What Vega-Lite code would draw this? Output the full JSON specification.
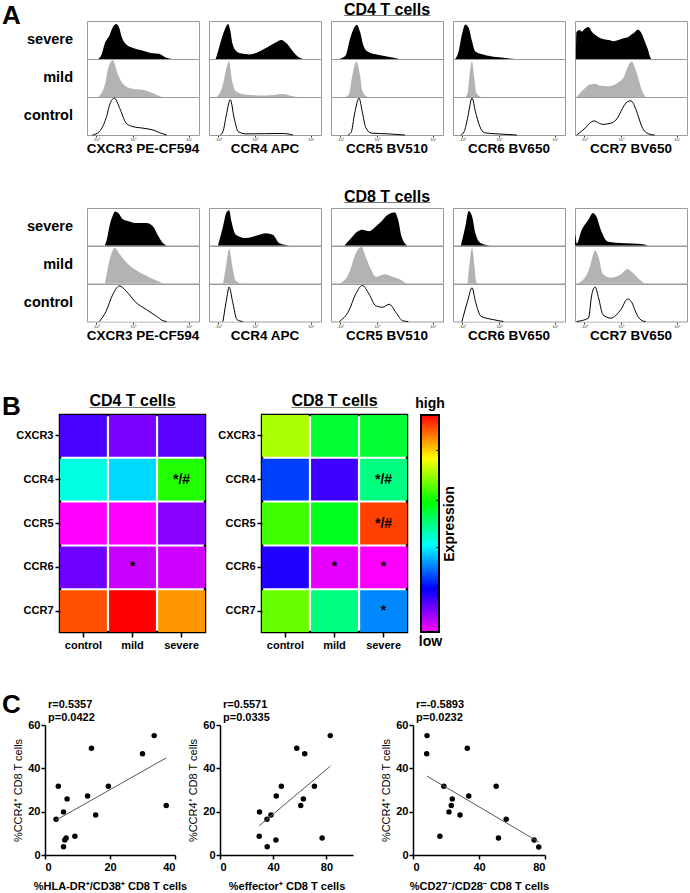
{
"$schema": "https://vega.github.io/schema/vega-lite/v6.json",
"background": "white",
"padding": {"left": 2, "top": 1, "right": 0, "bottom": 0},
"config": {
  "font": "Liberation Sans",
  "view": {"stroke": null},
  "axis": {"labelColor": "#000", "titleColor": "#000", "tickColor": "#000", "domainColor": "#000", "grid": false, "labelFont": "Liberation Sans", "titleFont": "Liberation Sans"},
  "header": {"labelColor": "#000", "labelFont": "Liberation Sans"},
  "title": {"color": "#000", "subtitleColor": "#000", "font": "Liberation Sans", "subtitleFont": "Liberation Sans"}
},
"datasets": {
  "hist": [
    {"c":"CD4","m":"CXCR3 PE-CF594","g":"severe","x":0.10,"y":0},
    {"c":"CD4","m":"CXCR3 PE-CF594","g":"severe","x":0.13,"y":0.12},
    {"c":"CD4","m":"CXCR3 PE-CF594","g":"severe","x":0.16,"y":0.42},
    {"c":"CD4","m":"CXCR3 PE-CF594","g":"severe","x":0.20,"y":0.62},
    {"c":"CD4","m":"CXCR3 PE-CF594","g":"severe","x":0.235,"y":0.86},
    {"c":"CD4","m":"CXCR3 PE-CF594","g":"severe","x":0.26,"y":0.92},
    {"c":"CD4","m":"CXCR3 PE-CF594","g":"severe","x":0.285,"y":0.84},
    {"c":"CD4","m":"CXCR3 PE-CF594","g":"severe","x":0.31,"y":0.58},
    {"c":"CD4","m":"CXCR3 PE-CF594","g":"severe","x":0.35,"y":0.38},
    {"c":"CD4","m":"CXCR3 PE-CF594","g":"severe","x":0.41,"y":0.29},
    {"c":"CD4","m":"CXCR3 PE-CF594","g":"severe","x":0.50,"y":0.22},
    {"c":"CD4","m":"CXCR3 PE-CF594","g":"severe","x":0.59,"y":0.15},
    {"c":"CD4","m":"CXCR3 PE-CF594","g":"severe","x":0.64,"y":0.14},
    {"c":"CD4","m":"CXCR3 PE-CF594","g":"severe","x":0.67,"y":0.10},
    {"c":"CD4","m":"CXCR3 PE-CF594","g":"severe","x":0.71,"y":0.03},
    {"c":"CD4","m":"CXCR3 PE-CF594","g":"severe","x":0.76,"y":0},
    {"c":"CD4","m":"CXCR3 PE-CF594","g":"mild","x":0.10,"y":0},
    {"c":"CD4","m":"CXCR3 PE-CF594","g":"mild","x":0.16,"y":0.33},
    {"c":"CD4","m":"CXCR3 PE-CF594","g":"mild","x":0.19,"y":0.77},
    {"c":"CD4","m":"CXCR3 PE-CF594","g":"mild","x":0.23,"y":0.97},
    {"c":"CD4","m":"CXCR3 PE-CF594","g":"mild","x":0.275,"y":0.6},
    {"c":"CD4","m":"CXCR3 PE-CF594","g":"mild","x":0.32,"y":0.35},
    {"c":"CD4","m":"CXCR3 PE-CF594","g":"mild","x":0.40,"y":0.22},
    {"c":"CD4","m":"CXCR3 PE-CF594","g":"mild","x":0.50,"y":0.19},
    {"c":"CD4","m":"CXCR3 PE-CF594","g":"mild","x":0.59,"y":0.10},
    {"c":"CD4","m":"CXCR3 PE-CF594","g":"mild","x":0.65,"y":0.02},
    {"c":"CD4","m":"CXCR3 PE-CF594","g":"mild","x":0.67,"y":0},
    {"c":"CD4","m":"CXCR3 PE-CF594","g":"control","x":0.05,"y":0},
    {"c":"CD4","m":"CXCR3 PE-CF594","g":"control","x":0.11,"y":0.09},
    {"c":"CD4","m":"CXCR3 PE-CF594","g":"control","x":0.17,"y":0.44},
    {"c":"CD4","m":"CXCR3 PE-CF594","g":"control","x":0.21,"y":0.86},
    {"c":"CD4","m":"CXCR3 PE-CF594","g":"control","x":0.245,"y":0.97},
    {"c":"CD4","m":"CXCR3 PE-CF594","g":"control","x":0.29,"y":0.72},
    {"c":"CD4","m":"CXCR3 PE-CF594","g":"control","x":0.35,"y":0.31},
    {"c":"CD4","m":"CXCR3 PE-CF594","g":"control","x":0.41,"y":0.22},
    {"c":"CD4","m":"CXCR3 PE-CF594","g":"control","x":0.50,"y":0.18},
    {"c":"CD4","m":"CXCR3 PE-CF594","g":"control","x":0.59,"y":0.13},
    {"c":"CD4","m":"CXCR3 PE-CF594","g":"control","x":0.65,"y":0.06},
    {"c":"CD4","m":"CXCR3 PE-CF594","g":"control","x":0.71,"y":0},

    {"c":"CD4","m":"CCR4 APC","g":"severe","x":0.06,"y":0},
    {"c":"CD4","m":"CCR4 APC","g":"severe","x":0.08,"y":0.2},
    {"c":"CD4","m":"CCR4 APC","g":"severe","x":0.125,"y":0.65},
    {"c":"CD4","m":"CCR4 APC","g":"severe","x":0.155,"y":0.87},
    {"c":"CD4","m":"CCR4 APC","g":"severe","x":0.17,"y":0.92},
    {"c":"CD4","m":"CCR4 APC","g":"severe","x":0.19,"y":0.75},
    {"c":"CD4","m":"CCR4 APC","g":"severe","x":0.21,"y":0.4},
    {"c":"CD4","m":"CCR4 APC","g":"severe","x":0.24,"y":0.22},
    {"c":"CD4","m":"CCR4 APC","g":"severe","x":0.28,"y":0.15},
    {"c":"CD4","m":"CCR4 APC","g":"severe","x":0.36,"y":0.12},
    {"c":"CD4","m":"CCR4 APC","g":"severe","x":0.45,"y":0.2},
    {"c":"CD4","m":"CCR4 APC","g":"severe","x":0.54,"y":0.34},
    {"c":"CD4","m":"CCR4 APC","g":"severe","x":0.60,"y":0.44},
    {"c":"CD4","m":"CCR4 APC","g":"severe","x":0.645,"y":0.5},
    {"c":"CD4","m":"CCR4 APC","g":"severe","x":0.69,"y":0.42},
    {"c":"CD4","m":"CCR4 APC","g":"severe","x":0.75,"y":0.2},
    {"c":"CD4","m":"CCR4 APC","g":"severe","x":0.81,"y":0.03},
    {"c":"CD4","m":"CCR4 APC","g":"severe","x":0.84,"y":0},
    {"c":"CD4","m":"CCR4 APC","g":"mild","x":0.07,"y":0},
    {"c":"CD4","m":"CCR4 APC","g":"mild","x":0.12,"y":0.28},
    {"c":"CD4","m":"CCR4 APC","g":"mild","x":0.15,"y":0.68},
    {"c":"CD4","m":"CCR4 APC","g":"mild","x":0.178,"y":0.94},
    {"c":"CD4","m":"CCR4 APC","g":"mild","x":0.205,"y":0.45},
    {"c":"CD4","m":"CCR4 APC","g":"mild","x":0.24,"y":0.15},
    {"c":"CD4","m":"CCR4 APC","g":"mild","x":0.33,"y":0.06},
    {"c":"CD4","m":"CCR4 APC","g":"mild","x":0.51,"y":0.04},
    {"c":"CD4","m":"CCR4 APC","g":"mild","x":0.66,"y":0.08},
    {"c":"CD4","m":"CCR4 APC","g":"mild","x":0.75,"y":0.02},
    {"c":"CD4","m":"CCR4 APC","g":"mild","x":0.80,"y":0},
    {"c":"CD4","m":"CCR4 APC","g":"control","x":0.10,"y":0},
    {"c":"CD4","m":"CCR4 APC","g":"control","x":0.125,"y":0.09},
    {"c":"CD4","m":"CCR4 APC","g":"control","x":0.155,"y":0.53},
    {"c":"CD4","m":"CCR4 APC","g":"control","x":0.19,"y":0.93},
    {"c":"CD4","m":"CCR4 APC","g":"control","x":0.225,"y":0.44},
    {"c":"CD4","m":"CCR4 APC","g":"control","x":0.26,"y":0.09},
    {"c":"CD4","m":"CCR4 APC","g":"control","x":0.33,"y":0.03},
    {"c":"CD4","m":"CCR4 APC","g":"control","x":0.66,"y":0.04},
    {"c":"CD4","m":"CCR4 APC","g":"control","x":0.75,"y":0},

    {"c":"CD4","m":"CCR5 BV510","g":"severe","x":0.075,"y":0},
    {"c":"CD4","m":"CCR5 BV510","g":"severe","x":0.13,"y":0.09},
    {"c":"CD4","m":"CCR5 BV510","g":"severe","x":0.17,"y":0.53},
    {"c":"CD4","m":"CCR5 BV510","g":"severe","x":0.21,"y":0.84},
    {"c":"CD4","m":"CCR5 BV510","g":"severe","x":0.23,"y":0.9},
    {"c":"CD4","m":"CCR5 BV510","g":"severe","x":0.26,"y":0.71},
    {"c":"CD4","m":"CCR5 BV510","g":"severe","x":0.29,"y":0.35},
    {"c":"CD4","m":"CCR5 BV510","g":"severe","x":0.33,"y":0.19},
    {"c":"CD4","m":"CCR5 BV510","g":"severe","x":0.42,"y":0.11},
    {"c":"CD4","m":"CCR5 BV510","g":"severe","x":0.51,"y":0.06},
    {"c":"CD4","m":"CCR5 BV510","g":"severe","x":0.61,"y":0},
    {"c":"CD4","m":"CCR5 BV510","g":"mild","x":0.13,"y":0},
    {"c":"CD4","m":"CCR5 BV510","g":"mild","x":0.16,"y":0.07},
    {"c":"CD4","m":"CCR5 BV510","g":"mild","x":0.19,"y":0.56},
    {"c":"CD4","m":"CCR5 BV510","g":"mild","x":0.227,"y":0.93},
    {"c":"CD4","m":"CCR5 BV510","g":"mild","x":0.26,"y":0.56},
    {"c":"CD4","m":"CCR5 BV510","g":"mild","x":0.28,"y":0.16},
    {"c":"CD4","m":"CCR5 BV510","g":"mild","x":0.31,"y":0.03},
    {"c":"CD4","m":"CCR5 BV510","g":"mild","x":0.33,"y":0},
    {"c":"CD4","m":"CCR5 BV510","g":"control","x":0.15,"y":0},
    {"c":"CD4","m":"CCR5 BV510","g":"control","x":0.18,"y":0.07},
    {"c":"CD4","m":"CCR5 BV510","g":"control","x":0.21,"y":0.55},
    {"c":"CD4","m":"CCR5 BV510","g":"control","x":0.25,"y":0.97},
    {"c":"CD4","m":"CCR5 BV510","g":"control","x":0.28,"y":0.6},
    {"c":"CD4","m":"CCR5 BV510","g":"control","x":0.31,"y":0.2},
    {"c":"CD4","m":"CCR5 BV510","g":"control","x":0.36,"y":0.05},
    {"c":"CD4","m":"CCR5 BV510","g":"control","x":0.51,"y":0.03},
    {"c":"CD4","m":"CCR5 BV510","g":"control","x":0.66,"y":0},

    {"c":"CD4","m":"CCR6 BV650","g":"severe","x":0.02,"y":0},
    {"c":"CD4","m":"CCR6 BV650","g":"severe","x":0.05,"y":0.2},
    {"c":"CD4","m":"CCR6 BV650","g":"severe","x":0.08,"y":0.65},
    {"c":"CD4","m":"CCR6 BV650","g":"severe","x":0.11,"y":0.91},
    {"c":"CD4","m":"CCR6 BV650","g":"severe","x":0.14,"y":0.82},
    {"c":"CD4","m":"CCR6 BV650","g":"severe","x":0.17,"y":0.47},
    {"c":"CD4","m":"CCR6 BV650","g":"severe","x":0.20,"y":0.2},
    {"c":"CD4","m":"CCR6 BV650","g":"severe","x":0.27,"y":0.12},
    {"c":"CD4","m":"CCR6 BV650","g":"severe","x":0.39,"y":0.05},
    {"c":"CD4","m":"CCR6 BV650","g":"severe","x":0.56,"y":0},
    {"c":"CD4","m":"CCR6 BV650","g":"mild","x":0.11,"y":0},
    {"c":"CD4","m":"CCR6 BV650","g":"mild","x":0.13,"y":0.1},
    {"c":"CD4","m":"CCR6 BV650","g":"mild","x":0.145,"y":0.5},
    {"c":"CD4","m":"CCR6 BV650","g":"mild","x":0.17,"y":0.94},
    {"c":"CD4","m":"CCR6 BV650","g":"mild","x":0.19,"y":0.5},
    {"c":"CD4","m":"CCR6 BV650","g":"mild","x":0.21,"y":0.1},
    {"c":"CD4","m":"CCR6 BV650","g":"mild","x":0.25,"y":0},
    {"c":"CD4","m":"CCR6 BV650","g":"control","x":0.07,"y":0},
    {"c":"CD4","m":"CCR6 BV650","g":"control","x":0.10,"y":0.09},
    {"c":"CD4","m":"CCR6 BV650","g":"control","x":0.13,"y":0.44},
    {"c":"CD4","m":"CCR6 BV650","g":"control","x":0.17,"y":0.97},
    {"c":"CD4","m":"CCR6 BV650","g":"control","x":0.20,"y":0.62},
    {"c":"CD4","m":"CCR6 BV650","g":"control","x":0.24,"y":0.22},
    {"c":"CD4","m":"CCR6 BV650","g":"control","x":0.28,"y":0.06},
    {"c":"CD4","m":"CCR6 BV650","g":"control","x":0.45,"y":0.02},
    {"c":"CD4","m":"CCR6 BV650","g":"control","x":0.57,"y":0},

    {"c":"CD4","m":"CCR7 BV650","g":"severe","x":0.008,"y":0},
    {"c":"CD4","m":"CCR7 BV650","g":"severe","x":0.012,"y":0.7},
    {"c":"CD4","m":"CCR7 BV650","g":"severe","x":0.04,"y":0.76},
    {"c":"CD4","m":"CCR7 BV650","g":"severe","x":0.06,"y":0.72},
    {"c":"CD4","m":"CCR7 BV650","g":"severe","x":0.09,"y":0.8},
    {"c":"CD4","m":"CCR7 BV650","g":"severe","x":0.12,"y":0.84},
    {"c":"CD4","m":"CCR7 BV650","g":"severe","x":0.15,"y":0.72},
    {"c":"CD4","m":"CCR7 BV650","g":"severe","x":0.18,"y":0.64},
    {"c":"CD4","m":"CCR7 BV650","g":"severe","x":0.22,"y":0.56},
    {"c":"CD4","m":"CCR7 BV650","g":"severe","x":0.26,"y":0.52},
    {"c":"CD4","m":"CCR7 BV650","g":"severe","x":0.30,"y":0.5},
    {"c":"CD4","m":"CCR7 BV650","g":"severe","x":0.35,"y":0.47},
    {"c":"CD4","m":"CCR7 BV650","g":"severe","x":0.40,"y":0.51},
    {"c":"CD4","m":"CCR7 BV650","g":"severe","x":0.44,"y":0.55},
    {"c":"CD4","m":"CCR7 BV650","g":"severe","x":0.47,"y":0.57},
    {"c":"CD4","m":"CCR7 BV650","g":"severe","x":0.50,"y":0.64},
    {"c":"CD4","m":"CCR7 BV650","g":"severe","x":0.53,"y":0.7},
    {"c":"CD4","m":"CCR7 BV650","g":"severe","x":0.56,"y":0.77},
    {"c":"CD4","m":"CCR7 BV650","g":"severe","x":0.585,"y":0.72},
    {"c":"CD4","m":"CCR7 BV650","g":"severe","x":0.60,"y":0.64},
    {"c":"CD4","m":"CCR7 BV650","g":"severe","x":0.625,"y":0.45},
    {"c":"CD4","m":"CCR7 BV650","g":"severe","x":0.65,"y":0.26},
    {"c":"CD4","m":"CCR7 BV650","g":"severe","x":0.665,"y":0.1},
    {"c":"CD4","m":"CCR7 BV650","g":"severe","x":0.68,"y":0},
    {"c":"CD4","m":"CCR7 BV650","g":"mild","x":0.015,"y":0},
    {"c":"CD4","m":"CCR7 BV650","g":"mild","x":0.05,"y":0.12},
    {"c":"CD4","m":"CCR7 BV650","g":"mild","x":0.09,"y":0.24},
    {"c":"CD4","m":"CCR7 BV650","g":"mild","x":0.13,"y":0.33},
    {"c":"CD4","m":"CCR7 BV650","g":"mild","x":0.18,"y":0.35},
    {"c":"CD4","m":"CCR7 BV650","g":"mild","x":0.22,"y":0.3},
    {"c":"CD4","m":"CCR7 BV650","g":"mild","x":0.29,"y":0.28},
    {"c":"CD4","m":"CCR7 BV650","g":"mild","x":0.38,"y":0.37},
    {"c":"CD4","m":"CCR7 BV650","g":"mild","x":0.44,"y":0.55},
    {"c":"CD4","m":"CCR7 BV650","g":"mild","x":0.47,"y":0.78},
    {"c":"CD4","m":"CCR7 BV650","g":"mild","x":0.49,"y":0.9},
    {"c":"CD4","m":"CCR7 BV650","g":"mild","x":0.51,"y":0.93},
    {"c":"CD4","m":"CCR7 BV650","g":"mild","x":0.54,"y":0.73},
    {"c":"CD4","m":"CCR7 BV650","g":"mild","x":0.57,"y":0.45},
    {"c":"CD4","m":"CCR7 BV650","g":"mild","x":0.59,"y":0.24},
    {"c":"CD4","m":"CCR7 BV650","g":"mild","x":0.63,"y":0},
    {"c":"CD4","m":"CCR7 BV650","g":"control","x":0.015,"y":0},
    {"c":"CD4","m":"CCR7 BV650","g":"control","x":0.05,"y":0.08},
    {"c":"CD4","m":"CCR7 BV650","g":"control","x":0.09,"y":0.18},
    {"c":"CD4","m":"CCR7 BV650","g":"control","x":0.135,"y":0.32},
    {"c":"CD4","m":"CCR7 BV650","g":"control","x":0.17,"y":0.37},
    {"c":"CD4","m":"CCR7 BV650","g":"control","x":0.21,"y":0.32},
    {"c":"CD4","m":"CCR7 BV650","g":"control","x":0.25,"y":0.28},
    {"c":"CD4","m":"CCR7 BV650","g":"control","x":0.32,"y":0.31},
    {"c":"CD4","m":"CCR7 BV650","g":"control","x":0.38,"y":0.45},
    {"c":"CD4","m":"CCR7 BV650","g":"control","x":0.41,"y":0.62},
    {"c":"CD4","m":"CCR7 BV650","g":"control","x":0.44,"y":0.78},
    {"c":"CD4","m":"CCR7 BV650","g":"control","x":0.47,"y":0.88},
    {"c":"CD4","m":"CCR7 BV650","g":"control","x":0.50,"y":0.9},
    {"c":"CD4","m":"CCR7 BV650","g":"control","x":0.54,"y":0.7},
    {"c":"CD4","m":"CCR7 BV650","g":"control","x":0.57,"y":0.45},
    {"c":"CD4","m":"CCR7 BV650","g":"control","x":0.59,"y":0.27},
    {"c":"CD4","m":"CCR7 BV650","g":"control","x":0.65,"y":0.04},
    {"c":"CD4","m":"CCR7 BV650","g":"control","x":0.71,"y":0},

    {"c":"CD8","m":"CXCR3 PE-CF594","g":"severe","x":0.16,"y":0},
    {"c":"CD8","m":"CXCR3 PE-CF594","g":"severe","x":0.18,"y":0.2},
    {"c":"CD8","m":"CXCR3 PE-CF594","g":"severe","x":0.20,"y":0.51},
    {"c":"CD8","m":"CXCR3 PE-CF594","g":"severe","x":0.23,"y":0.8},
    {"c":"CD8","m":"CXCR3 PE-CF594","g":"severe","x":0.25,"y":0.91},
    {"c":"CD8","m":"CXCR3 PE-CF594","g":"severe","x":0.28,"y":0.87},
    {"c":"CD8","m":"CXCR3 PE-CF594","g":"severe","x":0.32,"y":0.7},
    {"c":"CD8","m":"CXCR3 PE-CF594","g":"severe","x":0.37,"y":0.65},
    {"c":"CD8","m":"CXCR3 PE-CF594","g":"severe","x":0.44,"y":0.6},
    {"c":"CD8","m":"CXCR3 PE-CF594","g":"severe","x":0.53,"y":0.6},
    {"c":"CD8","m":"CXCR3 PE-CF594","g":"severe","x":0.59,"y":0.51},
    {"c":"CD8","m":"CXCR3 PE-CF594","g":"severe","x":0.63,"y":0.29},
    {"c":"CD8","m":"CXCR3 PE-CF594","g":"severe","x":0.68,"y":0.06},
    {"c":"CD8","m":"CXCR3 PE-CF594","g":"severe","x":0.71,"y":0},
    {"c":"CD8","m":"CXCR3 PE-CF594","g":"mild","x":0.16,"y":0},
    {"c":"CD8","m":"CXCR3 PE-CF594","g":"mild","x":0.20,"y":0.61},
    {"c":"CD8","m":"CXCR3 PE-CF594","g":"mild","x":0.25,"y":0.95},
    {"c":"CD8","m":"CXCR3 PE-CF594","g":"mild","x":0.29,"y":0.79},
    {"c":"CD8","m":"CXCR3 PE-CF594","g":"mild","x":0.38,"y":0.48},
    {"c":"CD8","m":"CXCR3 PE-CF594","g":"mild","x":0.47,"y":0.3},
    {"c":"CD8","m":"CXCR3 PE-CF594","g":"mild","x":0.59,"y":0.12},
    {"c":"CD8","m":"CXCR3 PE-CF594","g":"mild","x":0.68,"y":0},
    {"c":"CD8","m":"CXCR3 PE-CF594","g":"control","x":0.11,"y":0},
    {"c":"CD8","m":"CXCR3 PE-CF594","g":"control","x":0.17,"y":0.27},
    {"c":"CD8","m":"CXCR3 PE-CF594","g":"control","x":0.23,"y":0.72},
    {"c":"CD8","m":"CXCR3 PE-CF594","g":"control","x":0.29,"y":0.95},
    {"c":"CD8","m":"CXCR3 PE-CF594","g":"control","x":0.35,"y":0.81},
    {"c":"CD8","m":"CXCR3 PE-CF594","g":"control","x":0.44,"y":0.5},
    {"c":"CD8","m":"CXCR3 PE-CF594","g":"control","x":0.53,"y":0.32},
    {"c":"CD8","m":"CXCR3 PE-CF594","g":"control","x":0.62,"y":0.14},
    {"c":"CD8","m":"CXCR3 PE-CF594","g":"control","x":0.68,"y":0.02},
    {"c":"CD8","m":"CXCR3 PE-CF594","g":"control","x":0.71,"y":0},

    {"c":"CD8","m":"CCR4 APC","g":"severe","x":0.08,"y":0},
    {"c":"CD8","m":"CCR4 APC","g":"severe","x":0.125,"y":0.51},
    {"c":"CD8","m":"CCR4 APC","g":"severe","x":0.154,"y":0.87},
    {"c":"CD8","m":"CCR4 APC","g":"severe","x":0.18,"y":0.94},
    {"c":"CD8","m":"CCR4 APC","g":"severe","x":0.20,"y":0.65},
    {"c":"CD8","m":"CCR4 APC","g":"severe","x":0.24,"y":0.29},
    {"c":"CD8","m":"CCR4 APC","g":"severe","x":0.33,"y":0.2},
    {"c":"CD8","m":"CCR4 APC","g":"severe","x":0.42,"y":0.26},
    {"c":"CD8","m":"CCR4 APC","g":"severe","x":0.51,"y":0.33},
    {"c":"CD8","m":"CCR4 APC","g":"severe","x":0.57,"y":0.29},
    {"c":"CD8","m":"CCR4 APC","g":"severe","x":0.63,"y":0.06},
    {"c":"CD8","m":"CCR4 APC","g":"severe","x":0.72,"y":0},
    {"c":"CD8","m":"CCR4 APC","g":"mild","x":0.125,"y":0},
    {"c":"CD8","m":"CCR4 APC","g":"mild","x":0.15,"y":0.43},
    {"c":"CD8","m":"CCR4 APC","g":"mild","x":0.18,"y":0.93},
    {"c":"CD8","m":"CCR4 APC","g":"mild","x":0.21,"y":0.43},
    {"c":"CD8","m":"CCR4 APC","g":"mild","x":0.24,"y":0.07},
    {"c":"CD8","m":"CCR4 APC","g":"mild","x":0.30,"y":0},
    {"c":"CD8","m":"CCR4 APC","g":"control","x":0.125,"y":0},
    {"c":"CD8","m":"CCR4 APC","g":"control","x":0.154,"y":0.54},
    {"c":"CD8","m":"CCR4 APC","g":"control","x":0.18,"y":0.92},
    {"c":"CD8","m":"CCR4 APC","g":"control","x":0.21,"y":0.54},
    {"c":"CD8","m":"CCR4 APC","g":"control","x":0.25,"y":0.05},
    {"c":"CD8","m":"CCR4 APC","g":"control","x":0.30,"y":0},

    {"c":"CD8","m":"CCR5 BV510","g":"severe","x":0.12,"y":0},
    {"c":"CD8","m":"CCR5 BV510","g":"severe","x":0.18,"y":0.2},
    {"c":"CD8","m":"CCR5 BV510","g":"severe","x":0.24,"y":0.38},
    {"c":"CD8","m":"CCR5 BV510","g":"severe","x":0.28,"y":0.42},
    {"c":"CD8","m":"CCR5 BV510","g":"severe","x":0.34,"y":0.38},
    {"c":"CD8","m":"CCR5 BV510","g":"severe","x":0.40,"y":0.51},
    {"c":"CD8","m":"CCR5 BV510","g":"severe","x":0.45,"y":0.64},
    {"c":"CD8","m":"CCR5 BV510","g":"severe","x":0.49,"y":0.78},
    {"c":"CD8","m":"CCR5 BV510","g":"severe","x":0.54,"y":0.87},
    {"c":"CD8","m":"CCR5 BV510","g":"severe","x":0.57,"y":0.88},
    {"c":"CD8","m":"CCR5 BV510","g":"severe","x":0.60,"y":0.68},
    {"c":"CD8","m":"CCR5 BV510","g":"severe","x":0.63,"y":0.24},
    {"c":"CD8","m":"CCR5 BV510","g":"severe","x":0.68,"y":0},
    {"c":"CD8","m":"CCR5 BV510","g":"mild","x":0.075,"y":0},
    {"c":"CD8","m":"CCR5 BV510","g":"mild","x":0.16,"y":0.27},
    {"c":"CD8","m":"CCR5 BV510","g":"mild","x":0.22,"y":0.8},
    {"c":"CD8","m":"CCR5 BV510","g":"mild","x":0.27,"y":0.98},
    {"c":"CD8","m":"CCR5 BV510","g":"mild","x":0.31,"y":0.71},
    {"c":"CD8","m":"CCR5 BV510","g":"mild","x":0.36,"y":0.36},
    {"c":"CD8","m":"CCR5 BV510","g":"mild","x":0.40,"y":0.18},
    {"c":"CD8","m":"CCR5 BV510","g":"mild","x":0.48,"y":0.25},
    {"c":"CD8","m":"CCR5 BV510","g":"mild","x":0.55,"y":0.18},
    {"c":"CD8","m":"CCR5 BV510","g":"mild","x":0.63,"y":0.09},
    {"c":"CD8","m":"CCR5 BV510","g":"mild","x":0.67,"y":0},
    {"c":"CD8","m":"CCR5 BV510","g":"control","x":0.075,"y":0},
    {"c":"CD8","m":"CCR5 BV510","g":"control","x":0.16,"y":0.29},
    {"c":"CD8","m":"CCR5 BV510","g":"control","x":0.22,"y":0.73},
    {"c":"CD8","m":"CCR5 BV510","g":"control","x":0.28,"y":0.96},
    {"c":"CD8","m":"CCR5 BV510","g":"control","x":0.34,"y":0.73},
    {"c":"CD8","m":"CCR5 BV510","g":"control","x":0.40,"y":0.42},
    {"c":"CD8","m":"CCR5 BV510","g":"control","x":0.46,"y":0.38},
    {"c":"CD8","m":"CCR5 BV510","g":"control","x":0.52,"y":0.46},
    {"c":"CD8","m":"CCR5 BV510","g":"control","x":0.58,"y":0.24},
    {"c":"CD8","m":"CCR5 BV510","g":"control","x":0.64,"y":0.02},
    {"c":"CD8","m":"CCR5 BV510","g":"control","x":0.69,"y":0},

    {"c":"CD8","m":"CCR6 BV650","g":"severe","x":0.07,"y":0},
    {"c":"CD8","m":"CCR6 BV650","g":"severe","x":0.11,"y":0.51},
    {"c":"CD8","m":"CCR6 BV650","g":"severe","x":0.14,"y":0.92},
    {"c":"CD8","m":"CCR6 BV650","g":"severe","x":0.17,"y":0.78},
    {"c":"CD8","m":"CCR6 BV650","g":"severe","x":0.20,"y":0.33},
    {"c":"CD8","m":"CCR6 BV650","g":"severe","x":0.25,"y":0.06},
    {"c":"CD8","m":"CCR6 BV650","g":"severe","x":0.33,"y":0},
    {"c":"CD8","m":"CCR6 BV650","g":"mild","x":0.13,"y":0},
    {"c":"CD8","m":"CCR6 BV650","g":"mild","x":0.15,"y":0.61},
    {"c":"CD8","m":"CCR6 BV650","g":"mild","x":0.17,"y":0.95},
    {"c":"CD8","m":"CCR6 BV650","g":"mild","x":0.19,"y":0.52},
    {"c":"CD8","m":"CCR6 BV650","g":"mild","x":0.21,"y":0.03},
    {"c":"CD8","m":"CCR6 BV650","g":"mild","x":0.23,"y":0},
    {"c":"CD8","m":"CCR6 BV650","g":"control","x":0.08,"y":0},
    {"c":"CD8","m":"CCR6 BV650","g":"control","x":0.13,"y":0.54},
    {"c":"CD8","m":"CCR6 BV650","g":"control","x":0.17,"y":0.9},
    {"c":"CD8","m":"CCR6 BV650","g":"control","x":0.20,"y":0.54},
    {"c":"CD8","m":"CCR6 BV650","g":"control","x":0.25,"y":0.14},
    {"c":"CD8","m":"CCR6 BV650","g":"control","x":0.36,"y":0.05},
    {"c":"CD8","m":"CCR6 BV650","g":"control","x":0.45,"y":0},

    {"c":"CD8","m":"CCR7 BV650","g":"severe","x":0.0,"y":0},
    {"c":"CD8","m":"CCR7 BV650","g":"severe","x":0.004,"y":0.29},
    {"c":"CD8","m":"CCR7 BV650","g":"severe","x":0.015,"y":0.05},
    {"c":"CD8","m":"CCR7 BV650","g":"severe","x":0.06,"y":0.42},
    {"c":"CD8","m":"CCR7 BV650","g":"severe","x":0.12,"y":0.69},
    {"c":"CD8","m":"CCR7 BV650","g":"severe","x":0.16,"y":0.87},
    {"c":"CD8","m":"CCR7 BV650","g":"severe","x":0.19,"y":0.78},
    {"c":"CD8","m":"CCR7 BV650","g":"severe","x":0.235,"y":0.38},
    {"c":"CD8","m":"CCR7 BV650","g":"severe","x":0.29,"y":0.11},
    {"c":"CD8","m":"CCR7 BV650","g":"severe","x":0.44,"y":0.06},
    {"c":"CD8","m":"CCR7 BV650","g":"severe","x":0.59,"y":0.04},
    {"c":"CD8","m":"CCR7 BV650","g":"severe","x":0.65,"y":0},
    {"c":"CD8","m":"CCR7 BV650","g":"mild","x":0.015,"y":0},
    {"c":"CD8","m":"CCR7 BV650","g":"mild","x":0.09,"y":0.16},
    {"c":"CD8","m":"CCR7 BV650","g":"mild","x":0.13,"y":0.43},
    {"c":"CD8","m":"CCR7 BV650","g":"mild","x":0.18,"y":0.88},
    {"c":"CD8","m":"CCR7 BV650","g":"mild","x":0.21,"y":0.7},
    {"c":"CD8","m":"CCR7 BV650","g":"mild","x":0.25,"y":0.25},
    {"c":"CD8","m":"CCR7 BV650","g":"mild","x":0.32,"y":0.16},
    {"c":"CD8","m":"CCR7 BV650","g":"mild","x":0.41,"y":0.25},
    {"c":"CD8","m":"CCR7 BV650","g":"mild","x":0.47,"y":0.39},
    {"c":"CD8","m":"CCR7 BV650","g":"mild","x":0.51,"y":0.3},
    {"c":"CD8","m":"CCR7 BV650","g":"mild","x":0.57,"y":0.12},
    {"c":"CD8","m":"CCR7 BV650","g":"mild","x":0.62,"y":0},
    {"c":"CD8","m":"CCR7 BV650","g":"control","x":0.015,"y":0},
    {"c":"CD8","m":"CCR7 BV650","g":"control","x":0.12,"y":0.09},
    {"c":"CD8","m":"CCR7 BV650","g":"control","x":0.15,"y":0.72},
    {"c":"CD8","m":"CCR7 BV650","g":"control","x":0.18,"y":0.92},
    {"c":"CD8","m":"CCR7 BV650","g":"control","x":0.21,"y":0.63},
    {"c":"CD8","m":"CCR7 BV650","g":"control","x":0.25,"y":0.18},
    {"c":"CD8","m":"CCR7 BV650","g":"control","x":0.32,"y":0.09},
    {"c":"CD8","m":"CCR7 BV650","g":"control","x":0.41,"y":0.32},
    {"c":"CD8","m":"CCR7 BV650","g":"control","x":0.47,"y":0.6},
    {"c":"CD8","m":"CCR7 BV650","g":"control","x":0.50,"y":0.54},
    {"c":"CD8","m":"CCR7 BV650","g":"control","x":0.56,"y":0.14},
    {"c":"CD8","m":"CCR7 BV650","g":"control","x":0.60,"y":0.02},
    {"c":"CD8","m":"CCR7 BV650","g":"control","x":0.63,"y":0}
  ],
  "hm": [
    {"c":"CD4","m":"CXCR3","g":"control","v":0.142,"s":""},
    {"c":"CD4","m":"CXCR3","g":"mild","v":0.104,"s":""},
    {"c":"CD4","m":"CXCR3","g":"severe","v":0.13,"s":""},
    {"c":"CD4","m":"CCR4","g":"control","v":0.424,"s":""},
    {"c":"CD4","m":"CCR4","g":"mild","v":0.37,"s":""},
    {"c":"CD4","m":"CCR4","g":"severe","v":0.627,"s":"*/#"},
    {"c":"CD4","m":"CCR5","g":"control","v":0.0,"s":""},
    {"c":"CD4","m":"CCR5","g":"mild","v":0.0,"s":""},
    {"c":"CD4","m":"CCR5","g":"severe","v":0.092,"s":""},
    {"c":"CD4","m":"CCR6","g":"control","v":0.113,"s":""},
    {"c":"CD4","m":"CCR6","g":"mild","v":0.043,"s":"*"},
    {"c":"CD4","m":"CCR6","g":"severe","v":0.037,"s":""},
    {"c":"CD4","m":"CCR7","g":"control","v":0.937,"s":""},
    {"c":"CD4","m":"CCR7","g":"mild","v":1.0,"s":""},
    {"c":"CD4","m":"CCR7","g":"severe","v":0.883,"s":""},
    {"c":"CD8","m":"CXCR3","g":"control","v":0.733,"s":""},
    {"c":"CD8","m":"CXCR3","g":"mild","v":0.56,"s":""},
    {"c":"CD8","m":"CXCR3","g":"severe","v":0.56,"s":""},
    {"c":"CD8","m":"CCR4","g":"control","v":0.25,"s":""},
    {"c":"CD8","m":"CCR4","g":"mild","v":0.15,"s":""},
    {"c":"CD8","m":"CCR4","g":"severe","v":0.5,"s":"*/#"},
    {"c":"CD8","m":"CCR5","g":"control","v":0.65,"s":""},
    {"c":"CD8","m":"CCR5","g":"mild","v":0.58,"s":""},
    {"c":"CD8","m":"CCR5","g":"severe","v":0.95,"s":"*/#"},
    {"c":"CD8","m":"CCR6","g":"control","v":0.175,"s":""},
    {"c":"CD8","m":"CCR6","g":"mild","v":0.018,"s":"*"},
    {"c":"CD8","m":"CCR6","g":"severe","v":0.0,"s":"*"},
    {"c":"CD8","m":"CCR7","g":"control","v":0.68,"s":""},
    {"c":"CD8","m":"CCR7","g":"mild","v":0.5,"s":""},
    {"c":"CD8","m":"CCR7","g":"severe","v":0.307,"s":"*"}
  ],
  "s1": [
    {"x":3.4,"y":16.5},{"x":4.1,"y":31.7},{"x":5.7,"y":19.9},{"x":6.8,"y":25.9},{"x":5.7,"y":3.8},
    {"x":6.1,"y":6.9},{"x":6.5,"y":7.8},{"x":9.2,"y":8.7},{"x":13.1,"y":27.2},{"x":14.3,"y":49.3},
    {"x":15.6,"y":18.5},{"x":19.5,"y":31.7},{"x":30.0,"y":46.7},{"x":33.6,"y":55.1},{"x":37.3,"y":22.8}
  ],
  "s2": [
    {"x":29.7,"y":19.9},{"x":29.5,"y":8.7},{"x":35.3,"y":16.5},{"x":38.3,"y":18.5},{"x":35.5,"y":3.8},
    {"x":42.3,"y":27.2},{"x":42.0,"y":6.9},{"x":46.1,"y":31.7},{"x":57.7,"y":49.3},{"x":63.7,"y":46.7},
    {"x":60.7,"y":22.8},{"x":62.7,"y":25.9},{"x":71.0,"y":31.7},{"x":76.8,"y":7.8},{"x":82.9,"y":55.1}
  ],
  "s3": [
    {"x":8.5,"y":55.1},{"x":8.3,"y":46.7},{"x":18.7,"y":31.7},{"x":16.3,"y":8.7},{"x":21.8,"y":19.9},
    {"x":23.8,"y":25.9},{"x":23.2,"y":22.8},{"x":28.5,"y":18.5},{"x":32.9,"y":49.3},{"x":33.8,"y":27.2},
    {"x":50.4,"y":31.7},{"x":51.8,"y":7.8},{"x":56.5,"y":16.5},{"x":73.4,"y":6.9},{"x":76.2,"y":3.7}
  ],
  "f1": [{"x":3.4,"y":16.1},{"x":37.3,"y":44.8}],
  "f2": [{"x":29.5,"y":13.5},{"x":83.0,"y":41.0}],
  "f3": [{"x":8.5,"y":36.4},{"x":76.2,"y":6.0}]
},
"spacing": 48,
"vconcat": [
  {
    "spacing": 2,
    "hconcat": [
      {"width": 1, "height": 1, "data": {"values": []}, "mark": {"type": "point", "opacity": 0},
       "title": {"text": "A", "anchor": "start", "frame": "group", "fontSize": 26, "fontWeight": "bold", "offset": -8}},
      {
        "spacing": 32,
        "vconcat": [
          {
            "data": {"name": "hist"},
            "transform": [{"filter": "datum.c === 'CD4'"}],
            "title": {"text": "CD4 T cells", "subtitle": "__________", "fontSize": 16, "fontWeight": "bold", "subtitleFontSize": 15.5, "subtitleFontWeight": "bold", "subtitlePadding": -15.5, "anchor": "middle", "frame": "group", "dx": 300, "offset": 3},
            "bounds": "flush",
            "spacing": {"row": 0, "column": 10},
            "facet": {
              "row": {"field": "g", "type": "nominal", "sort": ["severe", "mild", "control"], "title": null,
                      "header": {"labelAngle": 0, "labelAlign": "left", "labelBaseline": "middle", "labelFontSize": 14.5, "labelFontWeight": "bold", "labelPadding": 14}},
              "column": {"field": "m", "type": "nominal", "sort": ["CXCR3 PE-CF594", "CCR4 APC", "CCR5 BV510", "CCR6 BV650", "CCR7 BV650"], "title": null,
                      "header": {"labelOrient": "bottom", "labelFontSize": 13.5, "labelFontWeight": "bold", "labelPadding": 1}}
            },
            "spec": {
              "width": 112, "height": 38,
              "view": {"stroke": "#9a9a9a", "strokeWidth": 1},
              "layer": [
                {"mark": {"type": "area", "interpolate": "monotone"},
                 "encoding": {
                   "x": {"field": "x", "type": "quantitative", "scale": {"domain": [0, 1], "nice": false},
                         "axis": {"title": null, "values": [0.08, 0.23, 0.41, 0.66, 0.91], "labelExpr": "datum.value < 0.1 ? '-10³' : datum.value < 0.3 ? '0' : datum.value < 0.5 ? '10³' : datum.value < 0.8 ? '10⁴' : '10⁵'", "labelFontSize": 4, "labelPadding": 0, "tickSize": 2, "domain": false, "labelOverlap": false, "labelFlush": false, "labelColor": "#333", "tickColor": "#333"}},
                   "y": {"field": "y", "type": "quantitative", "scale": {"domain": [0, 1], "nice": false}, "axis": null},
                   "color": {"field": "g", "type": "nominal", "scale": {"domain": ["severe", "mild", "control"], "range": ["#000000", "#b3b3b3", "#ffffff"]}, "legend": null}
                 }},
                {"transform": [{"filter": "datum.g === 'control'"}],
                 "mark": {"type": "line", "interpolate": "monotone", "color": "#000", "strokeWidth": 1},
                 "encoding": {"x": {"field": "x", "type": "quantitative"}, "y": {"field": "y", "type": "quantitative"}}}
              ]
            }
          },
          {
            "data": {"name": "hist"},
            "transform": [{"filter": "datum.c === 'CD8'"}],
            "title": {"text": "CD8 T cells", "subtitle": "__________", "fontSize": 16, "fontWeight": "bold", "subtitleFontSize": 15.5, "subtitleFontWeight": "bold", "subtitlePadding": -15.5, "anchor": "middle", "frame": "group", "dx": 300, "offset": 3},
            "bounds": "flush",
            "spacing": {"row": 0, "column": 10},
            "facet": {
              "row": {"field": "g", "type": "nominal", "sort": ["severe", "mild", "control"], "title": null,
                      "header": {"labelAngle": 0, "labelAlign": "left", "labelBaseline": "middle", "labelFontSize": 14.5, "labelFontWeight": "bold", "labelPadding": 14}},
              "column": {"field": "m", "type": "nominal", "sort": ["CXCR3 PE-CF594", "CCR4 APC", "CCR5 BV510", "CCR6 BV650", "CCR7 BV650"], "title": null,
                      "header": {"labelOrient": "bottom", "labelFontSize": 13.5, "labelFontWeight": "bold", "labelPadding": 1}}
            },
            "spec": {
              "width": 112, "height": 37.5,
              "view": {"stroke": "#9a9a9a", "strokeWidth": 1},
              "layer": [
                {"mark": {"type": "area", "interpolate": "monotone"},
                 "encoding": {
                   "x": {"field": "x", "type": "quantitative", "scale": {"domain": [0, 1], "nice": false},
                         "axis": {"title": null, "values": [0.08, 0.23, 0.41, 0.66, 0.91], "labelExpr": "datum.value < 0.1 ? '-10³' : datum.value < 0.3 ? '0' : datum.value < 0.5 ? '10³' : datum.value < 0.8 ? '10⁴' : '10⁵'", "labelFontSize": 4, "labelPadding": 0, "tickSize": 2, "domain": false, "labelOverlap": false, "labelFlush": false, "labelColor": "#333", "tickColor": "#333"}},
                   "y": {"field": "y", "type": "quantitative", "scale": {"domain": [0, 1], "nice": false}, "axis": null},
                   "color": {"field": "g", "type": "nominal", "scale": {"domain": ["severe", "mild", "control"], "range": ["#000000", "#b3b3b3", "#ffffff"]}, "legend": null}
                 }},
                {"transform": [{"filter": "datum.g === 'control'"}],
                 "mark": {"type": "line", "interpolate": "monotone", "color": "#000", "strokeWidth": 1},
                 "encoding": {"x": {"field": "x", "type": "quantitative"}, "y": {"field": "y", "type": "quantitative"}}}
              ]
            }
          }
        ]
      }
    ]
  },
  {
    "spacing": 40,
    "vconcat": [
      {
        "spacing": -7,
        "hconcat": [
          {"width": 1, "height": 1, "data": {"values": []}, "mark": {"type": "point", "opacity": 0},
           "title": {"text": "B", "anchor": "start", "frame": "group", "fontSize": 26, "fontWeight": "bold", "offset": -5}},
          {
            "spacing": 6,
            "hconcat": [
              {
                "spacing": 9,
                "hconcat": [
                  {
                    "data": {"name": "hm"},
                    "transform": [{"filter": "datum.c === 'CD4'"}],
                    "width": 145, "height": 217,
                    "title": {"text": "CD4 T cells", "subtitle": "__________", "fontSize": 16, "fontWeight": "bold", "subtitleFontSize": 15.5, "subtitleFontWeight": "bold", "subtitlePadding": -15.5, "anchor": "middle", "frame": "group", "offset": 6},
                    "view": {"stroke": "#000", "strokeWidth": 2.5},
                    "encoding": {
                      "x": {"field": "g", "type": "nominal", "sort": ["control", "mild", "severe"], "scale": {"paddingInner": 0.045, "paddingOuter": 0},
                            "axis": {"title": null, "labelAngle": 0, "labelFontSize": 11, "labelFontWeight": "bold", "tickSize": 5, "tickWidth": 1.5, "domain": false, "labelPadding": 2}},
                      "y": {"field": "m", "type": "nominal", "sort": ["CXCR3", "CCR4", "CCR5", "CCR6", "CCR7"], "scale": {"paddingInner": 0.045, "paddingOuter": 0},
                            "axis": {"title": null, "labelFontSize": 11, "labelFontWeight": "bold", "tickSize": 5, "tickWidth": 1.5, "domain": false, "labelPadding": 2}}
                    },
                    "layer": [
                      {"mark": "rect", "encoding": {"color": {"field": "v", "type": "quantitative", "scale": {"domain": [0, 0.2, 0.4, 0.6, 0.8, 1], "range": ["#ff00ff", "#0000ff", "#00ffff", "#00ff00", "#ffff00", "#ff0000"], "interpolate": "rgb"}, "legend": null}}},
                      {"mark": {"type": "text", "fontSize": 14, "fontWeight": "bold", "color": "#000"}, "encoding": {"text": {"field": "s"}}}
                    ]
                  },
                  {
                    "data": {"name": "hm"},
                    "transform": [{"filter": "datum.c === 'CD8'"}],
                    "width": 145, "height": 217,
                    "title": {"text": "CD8 T cells", "subtitle": "__________", "fontSize": 16, "fontWeight": "bold", "subtitleFontSize": 15.5, "subtitleFontWeight": "bold", "subtitlePadding": -15.5, "anchor": "middle", "frame": "group", "offset": 6},
                    "view": {"stroke": "#000", "strokeWidth": 2.5},
                    "encoding": {
                      "x": {"field": "g", "type": "nominal", "sort": ["control", "mild", "severe"], "scale": {"paddingInner": 0.045, "paddingOuter": 0},
                            "axis": {"title": null, "labelAngle": 0, "labelFontSize": 11, "labelFontWeight": "bold", "tickSize": 5, "tickWidth": 1.5, "domain": false, "labelPadding": 2}},
                      "y": {"field": "m", "type": "nominal", "sort": ["CXCR3", "CCR4", "CCR5", "CCR6", "CCR7"], "scale": {"paddingInner": 0.045, "paddingOuter": 0},
                            "axis": {"title": null, "labelFontSize": 11, "labelFontWeight": "bold", "tickSize": 5, "tickWidth": 1.5, "domain": false, "labelPadding": 2}}
                    },
                    "layer": [
                      {"mark": "rect", "encoding": {"color": {"field": "v", "type": "quantitative", "scale": {"domain": [0, 0.2, 0.4, 0.6, 0.8, 1], "range": ["#ff00ff", "#0000ff", "#00ffff", "#00ff00", "#ffff00", "#ff0000"], "interpolate": "rgb"}, "legend": null}}},
                      {"mark": {"type": "text", "fontSize": 14, "fontWeight": "bold", "color": "#000"}, "encoding": {"text": {"field": "s"}}}
                    ]
                  }
                ]
              },
              {
                "data": {"values": [{"lo": 0, "hi": 1}]},
                "width": 18, "height": 217,
                "title": {"text": "high", "fontSize": 14, "fontWeight": "bold", "anchor": "middle", "frame": "group", "offset": 3},
                "mark": {"type": "rect", "stroke": "#000", "strokeWidth": 2,
                         "fill": {"gradient": "linear", "x1": 0, "y1": 1, "x2": 0, "y2": 0,
                                  "stops": [{"offset": 0, "color": "#ff00ff"}, {"offset": 0.2, "color": "#0000ff"}, {"offset": 0.4, "color": "#00ffff"}, {"offset": 0.6, "color": "#00ff00"}, {"offset": 0.8, "color": "#ffff00"}, {"offset": 1, "color": "#ff0000"}]}},
                "encoding": {
                  "x": {"field": "lo", "type": "quantitative", "scale": {"domain": [0, 1], "nice": false},
                        "axis": {"title": "low", "titleFontSize": 14, "titleFontWeight": "bold", "labels": false, "ticks": false, "domain": false, "titlePadding": 2}},
                  "x2": {"field": "hi"},
                  "y": {"field": "lo", "type": "quantitative", "scale": {"domain": [0, 1], "nice": false},
                        "axis": {"orient": "right", "title": "Expression", "titleAngle": 270, "titleBaseline": "top", "titleFontSize": 14, "titleFontWeight": "bold", "labels": false, "values": [0.17, 0.39, 0.61, 0.84], "tickSize": -3, "tickWidth": 1.2, "domain": false, "titlePadding": 3, "zindex": 1}},
                  "y2": {"field": "hi"}
                }
              }
            ]
          }
        ]
      },
      {
        "spacing": -9,
        "hconcat": [
          {"width": 1, "height": 1, "data": {"values": []}, "mark": {"type": "point", "opacity": 0},
           "title": {"text": "C", "anchor": "start", "frame": "group", "fontSize": 26, "fontWeight": "bold", "offset": 7}},
          {
            "spacing": 27,
            "hconcat": [
              {
                "spacing": 0,
                "hconcat": [
                  {
                    "width": 130, "height": 130,
                    "title": {"text": ["r=0.5357", "p=0.0422"], "anchor": "start", "frame": "group", "fontSize": 11, "fontWeight": "bold", "lineHeight": 13, "dx": 3, "offset": -4},
                    "layer": [
                      {"data": {"name": "s1"}, "mark": {"type": "circle", "size": 30, "color": "#000", "opacity": 1},
                       "encoding": {
                         "x": {"field": "x", "type": "quantitative", "scale": {"domain": [0, 40], "nice": false},
                               "axis": {"values": [0, 10, 20, 30, 40], "title": "%HLA-DR⁺/CD38⁺ CD8 T cells", "labelFontSize": 11, "labelFontWeight": "bold", "tickSize": 4, "tickWidth": 1.5, "domainWidth": 1.5, "labelPadding": 2, "titleFontSize": 11, "titleFontWeight": "bold", "titlePadding": 8}},
                         "y": {"field": "y", "type": "quantitative", "scale": {"domain": [0, 60], "nice": false},
                               "axis": {"values": [0, 20, 40, 60], "title": "%CCR4⁺ CD8 T cells", "labelFontSize": 11, "labelFontWeight": "bold", "tickSize": 4, "tickWidth": 1.5, "domainWidth": 1.5, "labelPadding": 1, "titleFontSize": 11, "titleFontWeight": "normal", "titlePadding": 4}}
                       }},
                      {"data": {"name": "f1"}, "mark": {"type": "line", "color": "#555", "strokeWidth": 1},
                       "encoding": {"x": {"field": "x", "type": "quantitative"}, "y": {"field": "y", "type": "quantitative"}}}
                    ]
                  },
                  {
                    "width": 133, "height": 130,
                    "title": {"text": ["r=0.5571", "p=0.0335"], "anchor": "start", "frame": "group", "fontSize": 11, "fontWeight": "bold", "lineHeight": 13, "dx": 3, "offset": -4},
                    "layer": [
                      {"data": {"name": "s2"}, "mark": {"type": "circle", "size": 30, "color": "#000", "opacity": 1},
                       "encoding": {
                         "x": {"field": "x", "type": "quantitative", "scale": {"domain": [0, 100], "nice": false},
                               "axis": {"values": [0, 20, 40, 60, 80, 100], "title": "%effector⁺ CD8 T cells", "labelFontSize": 11, "labelFontWeight": "bold", "tickSize": 4, "tickWidth": 1.5, "domainWidth": 1.5, "labelPadding": 2, "titleFontSize": 11, "titleFontWeight": "bold", "titlePadding": 8}},
                         "y": {"field": "y", "type": "quantitative", "scale": {"domain": [0, 60], "nice": false},
                               "axis": {"values": [0, 20, 40, 60], "title": "%CCR4⁺ CD8 T cells", "labelFontSize": 11, "labelFontWeight": "bold", "tickSize": 4, "tickWidth": 1.5, "domainWidth": 1.5, "labelPadding": 1, "titleFontSize": 11, "titleFontWeight": "normal", "titlePadding": 4}}
                       }},
                      {"data": {"name": "f2"}, "mark": {"type": "line", "color": "#555", "strokeWidth": 1},
                       "encoding": {"x": {"field": "x", "type": "quantitative"}, "y": {"field": "y", "type": "quantitative"}}}
                    ]
                  }
                ]
              },
              {
                "width": 132, "height": 130,
                "title": {"text": ["r=-0.5893", "p=0.0232"], "anchor": "start", "frame": "group", "fontSize": 11, "fontWeight": "bold", "lineHeight": 13, "dx": 3, "offset": -4},
                "layer": [
                  {"data": {"name": "s3"}, "mark": {"type": "circle", "size": 30, "color": "#000", "opacity": 1},
                   "encoding": {
                     "x": {"field": "x", "type": "quantitative", "scale": {"domain": [0, 80], "nice": false},
                           "axis": {"values": [0, 20, 40, 60, 80], "title": "%CD27⁻/CD28⁻ CD8 T cells", "labelFontSize": 11, "labelFontWeight": "bold", "tickSize": 4, "tickWidth": 1.5, "domainWidth": 1.5, "labelPadding": 2, "titleFontSize": 11, "titleFontWeight": "bold", "titlePadding": 8}},
                     "y": {"field": "y", "type": "quantitative", "scale": {"domain": [0, 60], "nice": false},
                           "axis": {"values": [0, 20, 40, 60], "title": "%CCR4⁺ CD8 T cells", "labelFontSize": 11, "labelFontWeight": "bold", "tickSize": 4, "tickWidth": 1.5, "domainWidth": 1.5, "labelPadding": 1, "titleFontSize": 11, "titleFontWeight": "normal", "titlePadding": 4}}
                   }},
                  {"data": {"name": "f3"}, "mark": {"type": "line", "color": "#555", "strokeWidth": 1},
                   "encoding": {"x": {"field": "x", "type": "quantitative"}, "y": {"field": "y", "type": "quantitative"}}}
                ]
              }
            ]
          }
        ]
      }
    ]
  }
]
}
